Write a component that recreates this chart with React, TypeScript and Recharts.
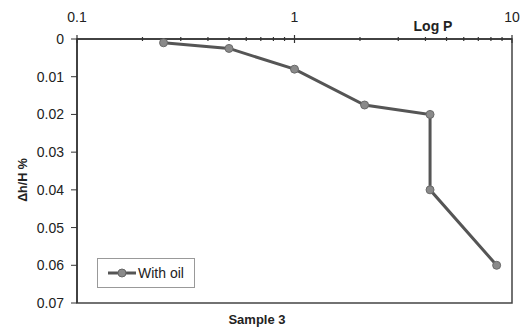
import { LineChart, Line, XAxis, YAxis, ReferenceArea, Legend, Label } from 'recharts';

const pressure = [0.25, 0.5, 1, 2.1, 4.2, 4.2, 8.5];
const strain = [0.001, 0.0025, 0.008, 0.0175, 0.02, 0.04, 0.06];
const xTicks = [0.1, 0.2, 0.3, 0.4, 0.5, 0.6, 0.7, 0.8, 0.9, 1, 2, 3, 4, 5, 6, 7, 8, 9, 10];
const xLabels = [0.1, 1, 10];
const yTicks = [0, 0.01, 0.02, 0.03, 0.04, 0.05, 0.06, 0.07];

const data = pressure.map((p, i) => ({ p, dh: strain[i] }));

const PLOT_TOP = 39;
const FONT = 'Liberation Sans, Arial, sans-serif';

function LogTick(props: any) {
  const { x, payload } = props;
  const major = xLabels.includes(payload.value);
  const len = major ? 4 : 2;
  return (
    <g>
      <line x1={x} x2={x} y1={PLOT_TOP - len} y2={PLOT_TOP + len} stroke="#333" strokeWidth={1.2} />
      {major && (
        <text x={x} y={PLOT_TOP - 17} textAnchor="middle" fontSize={14} fontFamily={FONT} fill="#222">
          {payload.value}
        </text>
      )}
    </g>
  );
}

function LegendBox() {
  return (
    <div style={{ width: 96, height: 28, border: '1px solid #999', background: '#fff', display: 'flex', alignItems: 'center', fontFamily: FONT, fontSize: 14, color: '#222' }}>
      <svg width={36} height={12} style={{ marginLeft: 8 }}>
        <line x1={2} x2={30} y1={6} y2={6} stroke="#555" strokeWidth={3} />
        <circle cx={16} cy={6} r={4} fill="#8a8a8a" stroke="#666" strokeWidth={1} />
      </svg>
      <span style={{ marginLeft: -4 }}>With oil</span>
    </div>
  );
}

export default function App() {
  return (
    <div style={{ position: 'absolute', left: 0, top: 0, background: '#fff' }}>
      <LineChart width={526} height={327} data={data} margin={{ top: 9, right: 14, bottom: 24, left: 17 }}>
        <XAxis
          dataKey="p"
          type="number"
          scale="log"
          domain={[0.1, 10]}
          ticks={xTicks}
          orientation="top"
          height={30}
          allowDataOverflow
          axisLine={{ stroke: '#333', strokeWidth: 1.5 }}
          tickLine={false}
          tick={<LogTick />}
          interval={0}
        >
          <Label
            content={() => (
              <text x={433} y={31} textAnchor="middle" fontSize={14} fontWeight="bold" fontFamily={FONT} fill="#222">
                Log P
              </text>
            )}
          />
        </XAxis>
        <YAxis
          type="number"
          reversed
          domain={[0, 0.07]}
          ticks={yTicks}
          width={60}
          interval={0}
          axisLine={{ stroke: '#333', strokeWidth: 1.5 }}
          tickLine={{ stroke: '#333' }}
          tickSize={6}
          tickMargin={7}
          tick={{ fontSize: 14, fontFamily: FONT, fill: '#222' }}
        >
          <Label
            content={() => (
              <text x={27} y={180} transform="rotate(-90 27 180)" textAnchor="middle" fontSize={12.5} fontWeight="bold" fontFamily={FONT} fill="#222">
                Δh/H %
              </text>
            )}
          />
        </YAxis>
        <ReferenceArea
          x1={0.1}
          x2={10}
          y1={0}
          y2={0.07}
          fill="none"
          stroke="#444"
          strokeWidth={1.5}
          ifOverflow="visible"
        >
          <Label
            content={() => (
              <text x={257} y={324} textAnchor="middle" fontSize={13} fontWeight="bold" fontFamily={FONT} fill="#222">
                Sample 3
              </text>
            )}
          />
        </ReferenceArea>
        <Legend
          layout="horizontal"
          verticalAlign="middle"
          align="center"
          content={<LegendBox />}
          wrapperStyle={{ position: 'absolute', left: 97, top: 258, width: 'auto' }}
        />
        <Line
          dataKey="dh"
          name="With oil"
          stroke="#555"
          strokeWidth={3}
          dot={{ r: 4, fill: '#8a8a8a', stroke: '#6a6a6a', strokeWidth: 1 }}
          isAnimationActive={false}
        />
      </LineChart>
    </div>
  );
}
